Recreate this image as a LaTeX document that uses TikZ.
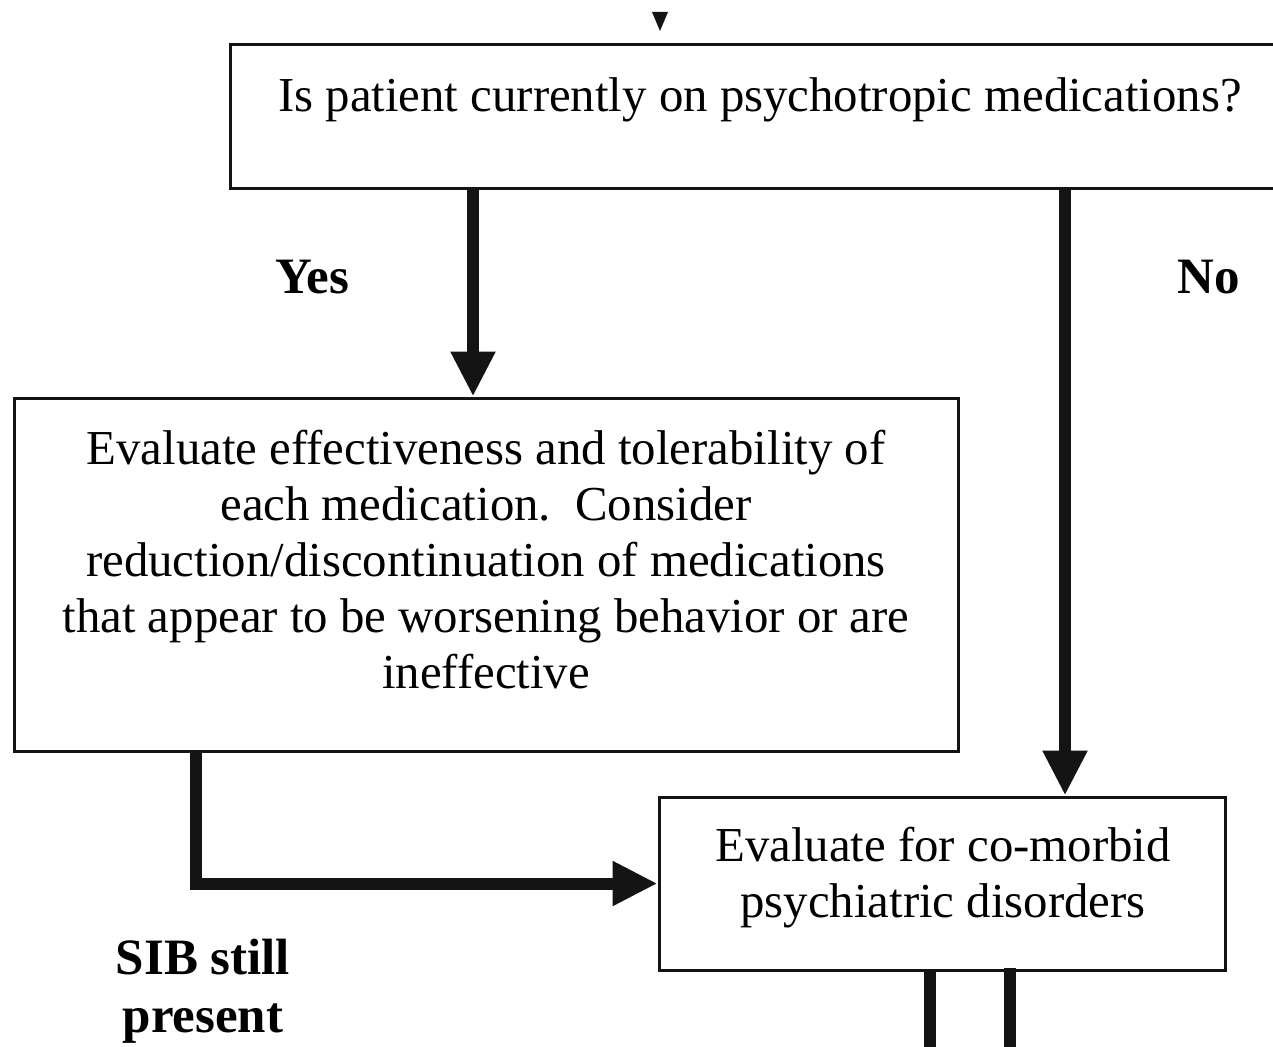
\documentclass[tikz,border=0pt]{standalone}
\usepackage{fontspec}
\setmainfont{Liberation Serif}
\usetikzlibrary{arrows.meta}
\begin{document}
\begin{tikzpicture}[x=1pt,y=-1pt,
  box/.style={draw=black!92,line width=3pt,inner sep=0pt},
  txt/.style={align=center,font=\fontsize{48.8}{56}\selectfont,inner sep=0pt},
  lbl/.style={font=\fontsize{51}{58}\bfseries\selectfont,inner sep=0pt,align=center},
  flow/.style={draw=black!92,line width=12pt,-{Triangle[length=45pt,width=42pt]}},
  bar/.style={draw=black!92,line width=12pt}]
\useasboundingbox (0,0) rectangle (1273,1046);
\clip (0,0) rectangle (1273,1046);

% incoming arrowhead from the previous step
\fill[black!92] (652,12) -- (668,12) -- (660,31) -- cycle;

% question box (runs past the right edge)
\node[box,minimum width=1060pt,minimum height=143pt] (topq) at (760,116.5) {};
\node[txt] (topqtext) at (760,100) {Is patient currently on psychotropic medications?};

% medication review box
\node[box,minimum width=944pt,minimum height=353pt] (evalbox) at (486,574.5) {};
\node[txt] (evaltext) at (486,560) {Evaluate effectiveness and tolerability of\\
each medication.\ \ Consider\\
reduction/discontinuation of medications\\
that appear to be worsening behavior or are\\
ineffective};

% co-morbid evaluation box
\node[box,minimum width=566pt,minimum height=173pt] (como) at (942,883.5) {};
\node[txt] (comotext) at (943,878) {Evaluate for co-morbid\\psychiatric disorders};

% branch columns
\coordinate (yesx) at (473,0);
\coordinate (nox) at (1065,0);
\draw[flow] (topq.south -| yesx) -- (evalbox.north -| yesx);
\draw[flow] (topq.south -| nox) -- (como.north -| nox);
\draw[flow] ([xshift=183pt]evalbox.south west) |- (como.west);

% outgoing bars
\coordinate (outl) at (930,1060);
\coordinate (outr) at (1010,1060);
\draw[bar] (como.south -| outl) -- (outl);
\draw[bar] ([yshift=4pt]como.south -| outr) -- (outr);

% branch labels
\node[lbl] (yes) at (312,277) {Yes};
\node[lbl] (no) at (1209,277) {No};
\node[lbl] (sib) at (203,991) {SIB still\\present};
\end{tikzpicture}
\end{document}
